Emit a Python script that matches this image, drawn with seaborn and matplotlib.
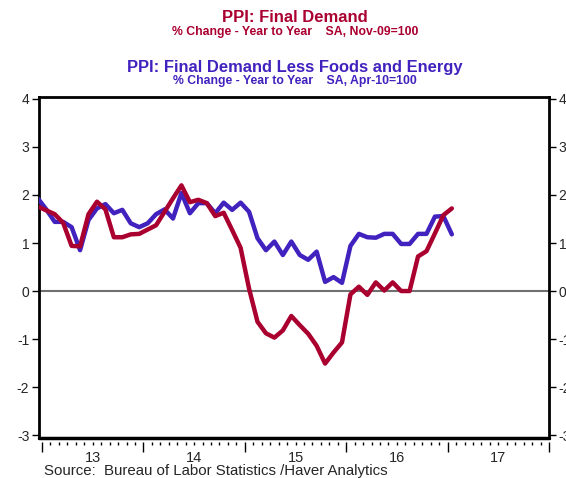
import matplotlib
matplotlib.use("Agg")
import matplotlib.pyplot as plt
import seaborn as sns
import numpy as np
import pandas as pd

# ---- data (monthly, Dec-2012 .. Jan-2017) ----
start_month = "2012-12"
ppi_final_demand = [1.76, 1.68, 1.60, 1.42, 0.94, 0.93, 1.60, 1.86, 1.70, 1.12, 1.12, 1.18, 1.19,
                    1.28, 1.37, 1.65, 1.93, 2.20, 1.85, 1.90, 1.83, 1.56, 1.63, 1.27, 0.90,
                    0.05, -0.64, -0.88, -0.97, -0.82, -0.52, -0.71, -0.89, -1.14, -1.51, -1.28, -1.07,
                    -0.07, 0.09, -0.08, 0.18, 0.01, 0.18, 0.00, 0.00, 0.72, 0.83, 1.20, 1.58,
                    1.72]
ppi_core = [1.93, 1.70, 1.44, 1.44, 1.33, 0.85, 1.48, 1.72, 1.81, 1.62, 1.69, 1.41, 1.33,
            1.41, 1.60, 1.70, 1.51, 2.04, 1.62, 1.83, 1.83, 1.62, 1.84, 1.69, 1.84,
            1.65, 1.10, 0.85, 1.03, 0.75, 1.03, 0.75, 0.65, 0.82, 0.19, 0.29, 0.17,
            0.94, 1.19, 1.12, 1.11, 1.19, 1.19, 0.98, 0.98, 1.19, 1.19, 1.55, 1.56,
            1.18]
year_labels = ["13", "14", "15", "16", "17"]
years = [2013, 2014, 2015, 2016, 2017]
y_ticks = [-3, -2, -1, 0, 1, 2, 3, 4]

periods = pd.period_range(start_month, periods=len(ppi_final_demand), freq="M")
xpos = periods.year + (periods.month - 0.5) / 12.0
df = pd.DataFrame({"x": xpos, "fd": ppi_final_demand, "core": ppi_core})

RED = "#AA0030"
BLUE = "#4222BE"

sns.set_style("white")
plt.rcParams["font.family"] = ["Liberation Sans", "DejaVu Sans"]

fig = plt.figure(figsize=(5.66, 4.78), dpi=100)
ax = fig.add_axes([39/566, 1-438/478, (549-39)/566, (438-97)/478])

ax.axhline(0, color="#707070", lw=1.5, zorder=1)
sns.lineplot(data=df, x="x", y="core", color=BLUE, lw=3.2, ax=ax, zorder=3)
sns.lineplot(data=df, x="x", y="fd", color=RED, lw=3.2, ax=ax, zorder=4)

ax.set_xlim(2012.97, 2018.0)
ax.set_ylim(-3.06, 4.04)
ax.set_xlabel("")
ax.set_ylabel("")

# frame
for s in ["left", "right", "top"]:
    ax.spines[s].set_visible(True)
    ax.spines[s].set_color("black")
    ax.spines[s].set_linewidth(2)
ax.spines["bottom"].set_visible(True)
ax.spines["bottom"].set_position(("outward", 3))
ax.spines["bottom"].set_color("none")
ax.axhline(-3.06, color="black", lw=2.5, clip_on=False, zorder=5)

ax.set_yticks(y_ticks)
ax.set_yticklabels([str(v) for v in y_ticks])
ax.tick_params(axis="y", which="both", left=True, right=True, labelleft=True, labelright=True,
               direction="out", length=5, width=1, color="black", labelsize=10, pad=2)

ax.set_xticks(years + [2018])
ax.set_xticklabels([])
ax.set_xticks(np.arange(2013, 2018.01, 1/12.0), minor=True)
ax.tick_params(axis="x", which="major", bottom=True, direction="out", length=7, width=1,
               color="black")
ax.tick_params(axis="x", which="minor", bottom=True, direction="out", length=2.5, width=1,
               color="black")
for yr, lab in zip(years, year_labels):
    ax.text(yr + 0.5, -0.06, lab, transform=ax.get_xaxis_transform(), ha="center", va="center",
            fontsize=10.5)

cx = 295/566
fig.text(cx, 1-17/478, "PPI: Final Demand", ha="center", va="center", color=RED,
         fontsize=12, fontweight="bold")
fig.text(cx, 1-32/478, "% Change - Year to Year    SA, Nov-09=100", ha="center", va="center",
         color=RED, fontsize=8.8, fontweight="bold")
fig.text(cx, 1-67/478, "PPI: Final Demand Less Foods and Energy", ha="center", va="center",
         color=BLUE, fontsize=11.9, fontweight="bold")
fig.text(cx, 1-81/478, "% Change - Year to Year    SA, Apr-10=100", ha="center", va="center",
         color=BLUE, fontsize=8.8, fontweight="bold")
fig.text(44/566, 1-471.5/478, "Source:  Bureau of Labor Statistics /Haver Analytics", ha="left",
         va="center", fontsize=10.8)

fig.savefig("out.png", dpi=100)
